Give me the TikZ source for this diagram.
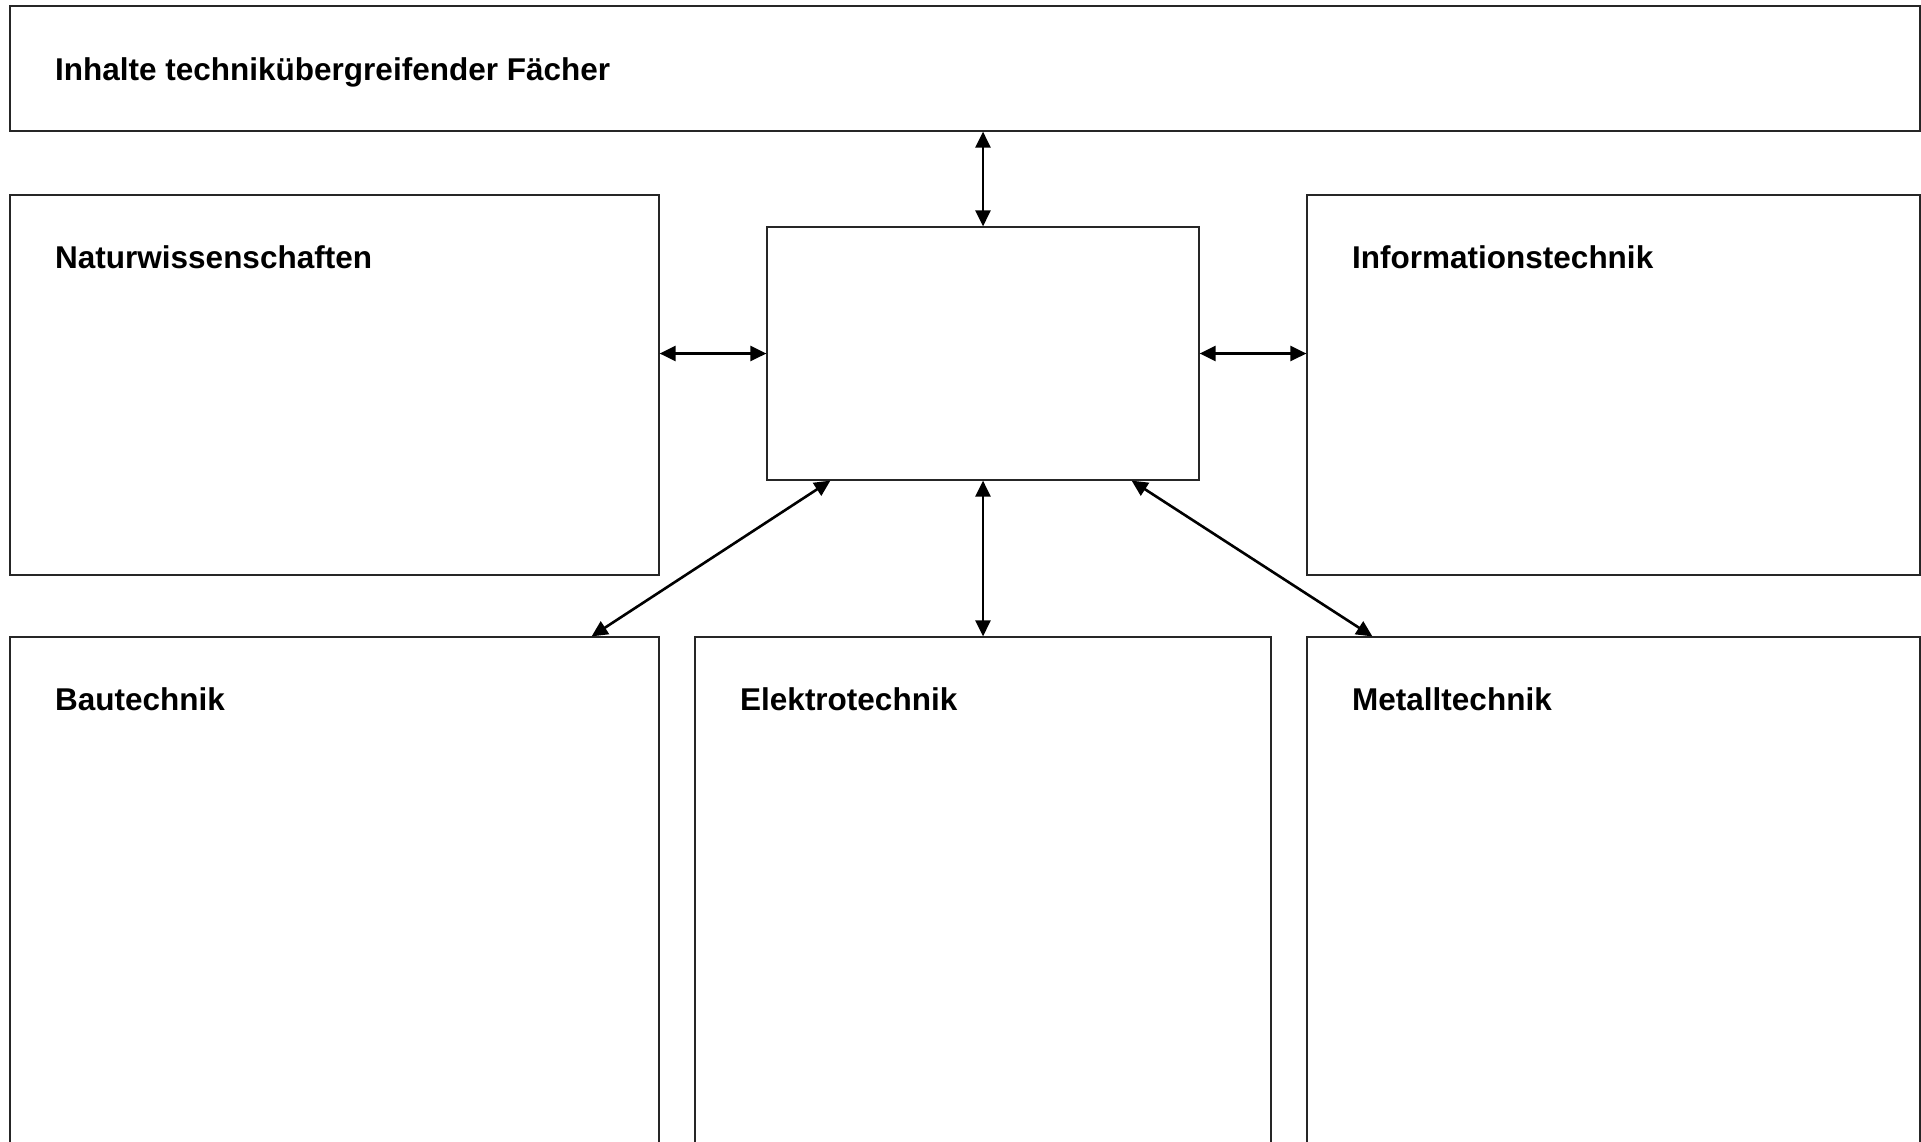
\documentclass[tikz,border=0pt]{standalone}
\usepackage{fontspec}
\setmainfont{Liberation Sans}
\usetikzlibrary{arrows.meta,fit,calc}
\begin{document}
\begin{tikzpicture}[x=1pt,y=-1pt,
  box/.style={draw=black!85,line width=1.2pt,inner sep=0pt,rectangle},
  lbl/.style={anchor=base west,inner sep=0pt,font=\fontsize{31.5}{38}\selectfont\bfseries},
  link/.style={line width=2.6pt,{Triangle[length=16pt,width=15pt]}-{Triangle[length=16pt,width=15pt]}}]
\useasboundingbox (0,0) rectangle (1921,1141);
\clip (0,0) rectangle (1921,1141);
\node[box,fit={(10,6) (1920,131)}] (top) {};
\node[box,fit={(10,195) (659,575)}] (natur) {};
\node[box,fit={(767,227) (1199,480)}] (center) {};
\node[box,fit={(1307,195) (1920,575)}] (info) {};
\node[box,fit={(10,637) (659,1200)}] (bau) {};
\node[box,fit={(695,637) (1271,1200)}] (elektro) {};
\node[box,fit={(1307,637) (1920,1200)}] (metall) {};
\node[lbl] (ttop) at (55,80) {Inhalte technikübergreifender Fächer};
\node[lbl] (tnatur) at (55,268) {Naturwissenschaften};
\node[lbl] (tinfo) at (1352,268) {Informationstechnik};
\node[lbl] (tbau) at (55,710) {Bautechnik};
\node[lbl] (telektro) at (740,710) {Elektrotechnik};
\node[lbl] (tmetall) at (1352,710) {Metalltechnik};
\draw[link] (center.north |- top.south) -- (center.north);
\draw[link] (center.west -| natur.east) -- (center.west);
\draw[link] (center.east) -- (center.east -| info.west);
\draw[link] (center.south) -- (center.south |- elektro.north);
\draw[link] ($(center.south west)+(64,0)$) -- ($(bau.north east)+(-68,0)$);
\draw[link] ($(center.south east)+(-68,0)$) -- ($(metall.north west)+(66,0)$);
\end{tikzpicture}
\end{document}
